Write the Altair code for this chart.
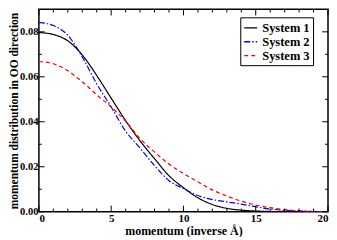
import altair as alt
import pandas as pd

momentum = list(range(21))
system1 = [0.0797, 0.0788, 0.0760, 0.0697, 0.0606, 0.0505, 0.0405, 0.0315, 0.0236, 0.0160,
           0.0107, 0.0062, 0.0032, 0.0015, 0.0007, 0.0003, 0.0001, 0.0, 0.0, 0.0, 0.0]
system2 = [0.0842, 0.0828, 0.0785, 0.0688, 0.0569, 0.0466, 0.0358, 0.0283, 0.0205, 0.0138,
           0.0103, 0.0072, 0.0054, 0.0044, 0.0034, 0.0022, 0.0012, 0.0006, 0.0003, 0.0001, 0.0]
system3 = [0.0668, 0.0658, 0.0627, 0.0578, 0.0520, 0.0466, 0.0403, 0.0325, 0.0265, 0.0212,
           0.0170, 0.0133, 0.0097, 0.0070, 0.0047, 0.0030, 0.0018, 0.0009, 0.0004, 0.0001, 0.0]
series_names = ["System 1", "System 2", "System 3"]
x_tick_labels = [0, 5, 10, 15, 20]
y_tick_labels = [0.0, 0.02, 0.04, 0.06, 0.08]
x_minor = [v for v in range(21) if v % 5 != 0]
y_minor = [0.01, 0.03, 0.05, 0.07]

X_MAX, Y_MAX = 20, 0.09

rows = []
for name, vals in zip(series_names, [system1, system2, system3]):
    for x, y in zip(momentum, vals):
        rows.append({"momentum": x, "value": y, "series": name})
df = pd.DataFrame(rows)

# inward ticks on all four sides (lengths in data units)
XL_MAJ, XL_MIN = 0.40, 0.20
YL_MAJ, YL_MIN = 0.0027, 0.0014
ticks = []
for v, L in [(v, YL_MAJ) for v in x_tick_labels] + [(v, YL_MIN) for v in x_minor]:
    ticks.append({"x": v, "x2": v, "y": 0, "y2": L})
    ticks.append({"x": v, "x2": v, "y": Y_MAX, "y2": Y_MAX - L})
for v, L in [(v, XL_MAJ) for v in y_tick_labels] + [(v, XL_MIN) for v in y_minor]:
    ticks.append({"x": 0, "x2": L, "y": v, "y2": v})
    ticks.append({"x": X_MAX, "x2": X_MAX - L, "y": v, "y2": v})
tdf = pd.DataFrame(ticks)

FONT = "Liberation Serif"

xscale = alt.Scale(domain=[0, X_MAX], nice=False, zero=False)
yscale = alt.Scale(domain=[0, Y_MAX], nice=False, zero=False)

legend = alt.Legend(
    orient="none", legendX=202, legendY=8,
    strokeColor="black", fillColor="white", padding=3, cornerRadius=0,
    symbolType="stroke", symbolSize=170, symbolStrokeWidth=1.3,
    labelFont=FONT, labelFontWeight="bold", labelFontSize=12.5, labelColor="black",
    rowPadding=0, labelOffset=4,
)

lines = alt.Chart(df).mark_line(strokeWidth=1.2, interpolate="monotone", clip=True).encode(
    x=alt.X("momentum:Q", scale=xscale,
            axis=alt.Axis(values=x_tick_labels, title="momentum (inverse Å)", format="d",
                          titlePadding=2)),
    y=alt.Y("value:Q", scale=yscale,
            axis=alt.Axis(values=y_tick_labels, title="momentum distribution in OO direction", format=".2f",
                          labelFontSize=10.5, titleFontSize=11.5, titlePadding=0)),
    color=alt.Color("series:N", title=None,
                    scale=alt.Scale(domain=series_names, range=["#000000", "#0000ff", "#ff0000"]),
                    legend=legend),
    strokeDash=alt.StrokeDash("series:N", title=None,
                              scale=alt.Scale(domain=series_names, range=[[1, 0], [6, 2, 1.5, 2], [4, 3]]),
                              legend=legend),
)

tick_layer = alt.Chart(tdf).mark_rule(color="black", strokeWidth=1).encode(
    x=alt.X("x:Q", scale=xscale),
    x2="x2:Q",
    y=alt.Y("y:Q", scale=yscale),
    y2="y2:Q",
)

chart = alt.layer(lines, tick_layer).properties(
    width=322, height=229,
    autosize=alt.AutoSizeParams(type="fit", contains="padding"),
    padding=0,
).configure(
    font=FONT
).configure_view(
    stroke="black", strokeWidth=1.5
).configure_axis(
    ticks=False, domain=False, grid=False,
    labelFont=FONT, labelFontWeight="bold", labelFontSize=11, labelColor="black", labelPadding=1,
    titleFont=FONT, titleFontWeight="bold", titleFontSize=12, titleColor="black",
).configure_legend(
    labelFont=FONT, labelFontWeight="bold", labelFontSize=12.5, labelColor="black",
)

chart.save("out.html", embed_options={"renderer": "svg", "actions": False})
